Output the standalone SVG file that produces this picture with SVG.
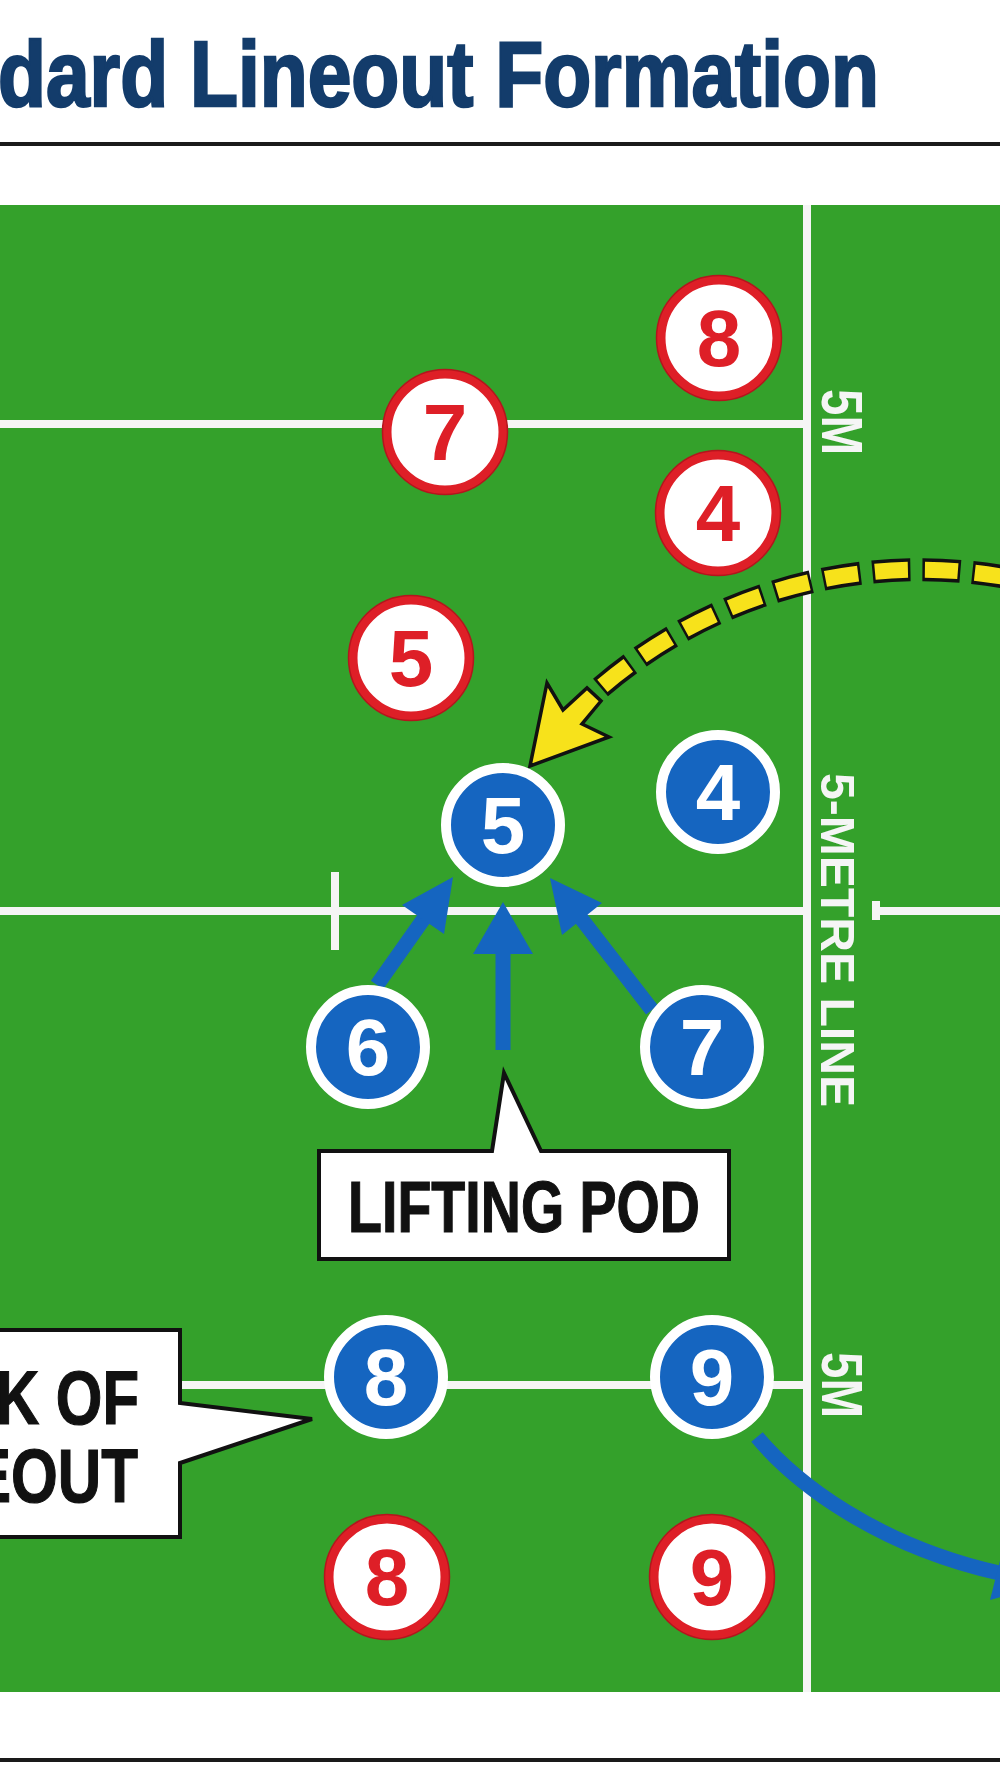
<svg xmlns="http://www.w3.org/2000/svg" width="1000" height="1792" viewBox="0 0 1000 1792">
<style>
text{font-family:"Liberation Sans",Arial,sans-serif;font-weight:bold}
.num{font-size:80px;text-anchor:middle}
.red circle{fill:#ffffff;stroke:#de1f27;stroke-width:9}
.red .rim{fill:none;stroke:#b3161d;stroke-width:1.5}
.red text{fill:#de1f27}
.blue circle{fill:#1565c0;stroke:#ffffff;stroke-width:10}
.blue text{fill:#ffffff}
.pitch{stroke:#f5f5f5;stroke-width:8;fill:none}
.mark{fill:#f5f5f5}
.callout path{fill:#ffffff;stroke:#111111;stroke-width:4;stroke-linejoin:miter}
.callout text{fill:#111111;stroke:#111111;stroke-width:1.2}
.blueArrow{stroke:#1565c0;fill:none;stroke-width:15}
.blueHead{fill:#1565c0}
</style>
<rect x="0" y="0" width="1000" height="1792" fill="#ffffff"/>
<g id="title">
<text x="-2" y="106" font-size="92" fill="#133c6b" stroke="#133c6b" stroke-width="2.5" textLength="881" lengthAdjust="spacingAndGlyphs">dard Lineout Formation</text>
<rect x="0" y="142" width="1000" height="4" fill="#1a1a1a"/>
</g>
<g id="field">
<rect x="0" y="205" width="1000" height="1487" fill="#34a12b"/>
<line class="pitch" x1="807" y1="205" x2="807" y2="1692"/>
<line class="pitch" x1="0" y1="424" x2="807" y2="424"/>
<line class="pitch" x1="0" y1="911" x2="807" y2="911"/>
<line class="pitch" x1="876" y1="911" x2="1000" y2="911"/>
<line class="pitch" x1="876" y1="901" x2="876" y2="920" stroke-width="5"/>
<line class="pitch" x1="335" y1="872" x2="335" y2="950" stroke-width="5"/>
<line class="pitch" x1="0" y1="1385" x2="807" y2="1385"/>
<text class="mark" transform="translate(822,389) rotate(90)" font-size="57" textLength="66" lengthAdjust="spacingAndGlyphs">5M</text>
<text class="mark" transform="translate(821,773) rotate(90)" font-size="48" textLength="334" lengthAdjust="spacingAndGlyphs">5-METRE LINE</text>
<text class="mark" transform="translate(822,1352) rotate(90)" font-size="57" textLength="66" lengthAdjust="spacingAndGlyphs">5M</text>
</g>
<g id="connectors">
<path d="M593 694 A492 492 0 0 1 1010 578" fill="none" stroke="#111111" stroke-width="23" stroke-dasharray="38 12" stroke-dashoffset="40"/>
<path d="M593 694 A492 492 0 0 1 1010 578" fill="none" stroke="#f7e21b" stroke-width="16" stroke-dasharray="33 17" stroke-dashoffset="37.5"/>
<polygon points="530,766 547,683 563,710 587,688 601,701 582,724 609,737" fill="#f7e21b" stroke="#111111" stroke-width="3.5" stroke-linejoin="miter"/>
<line class="blueArrow" x1="377" y1="985" x2="425" y2="917"/>
<polygon class="blueHead" points="453,877 444,934 402,905"/>
<line class="blueArrow" x1="503" y1="1050" x2="503" y2="950"/>
<polygon class="blueHead" points="503,902 533,954 473,954"/>
<line class="blueArrow" x1="652" y1="1010" x2="580" y2="917"/>
<polygon class="blueHead" points="550,878 602,903 562,935"/>
<path class="blueArrow" d="M757 1437 C795 1482 875 1545 999 1573"/>
<polygon class="blueHead" points="1045,1585 1004,1545 990,1600"/>
</g>
<g id="red8a" class="red"><circle cx="719" cy="338" r="58"/><circle class="rim" cx="719" cy="338" r="62.5"/><text class="num" x="719" y="366">8</text></g>
<g id="red7" class="red"><circle cx="445" cy="432" r="58"/><circle class="rim" cx="445" cy="432" r="62.5"/><text class="num" x="445" y="460">7</text></g>
<g id="red4" class="red"><circle cx="718" cy="513" r="58"/><circle class="rim" cx="718" cy="513" r="62.5"/><text class="num" x="718" y="541">4</text></g>
<g id="red5" class="red"><circle cx="411" cy="658" r="58"/><circle class="rim" cx="411" cy="658" r="62.5"/><text class="num" x="411" y="686">5</text></g>
<g id="red8b" class="red"><circle cx="387" cy="1577" r="58"/><circle class="rim" cx="387" cy="1577" r="62.5"/><text class="num" x="387" y="1605">8</text></g>
<g id="red9" class="red"><circle cx="712" cy="1577" r="58"/><circle class="rim" cx="712" cy="1577" r="62.5"/><text class="num" x="712" y="1605">9</text></g>
<g id="blue5" class="blue"><circle cx="503" cy="825" r="57"/><text class="num" x="503" y="853">5</text></g>
<g id="blue4" class="blue"><circle cx="718" cy="792" r="57"/><text class="num" x="718" y="820">4</text></g>
<g id="blue6" class="blue"><circle cx="368" cy="1047" r="57"/><text class="num" x="368" y="1075">6</text></g>
<g id="blue7" class="blue"><circle cx="702" cy="1047" r="57"/><text class="num" x="702" y="1075">7</text></g>
<g id="blue8" class="blue"><circle cx="386" cy="1377" r="57"/><text class="num" x="386" y="1405">8</text></g>
<g id="blue9" class="blue"><circle cx="712" cy="1377" r="57"/><text class="num" x="712" y="1405">9</text></g>
<g id="liftingPod" class="callout">
<path d="M319 1151 H492 L504 1073 L541 1151 H729 V1259 H319 Z"/>
<text x="348" y="1232" font-size="72" textLength="352" lengthAdjust="spacingAndGlyphs">LIFTING POD</text>
</g>
<g id="backOfLineout" class="callout">
<path d="M-10 1330 H180 V1403 L312 1419 L180 1463 V1537 H-10 Z"/>
<text x="-4" y="1424" font-size="76" textLength="143" lengthAdjust="spacingAndGlyphs">K OF</text>
<text x="-29" y="1502" font-size="76" textLength="167" lengthAdjust="spacingAndGlyphs">EOUT</text>
</g>
<rect id="footerRule" x="0" y="1758" width="1000" height="4" fill="#1a1a1a"/>
</svg>
